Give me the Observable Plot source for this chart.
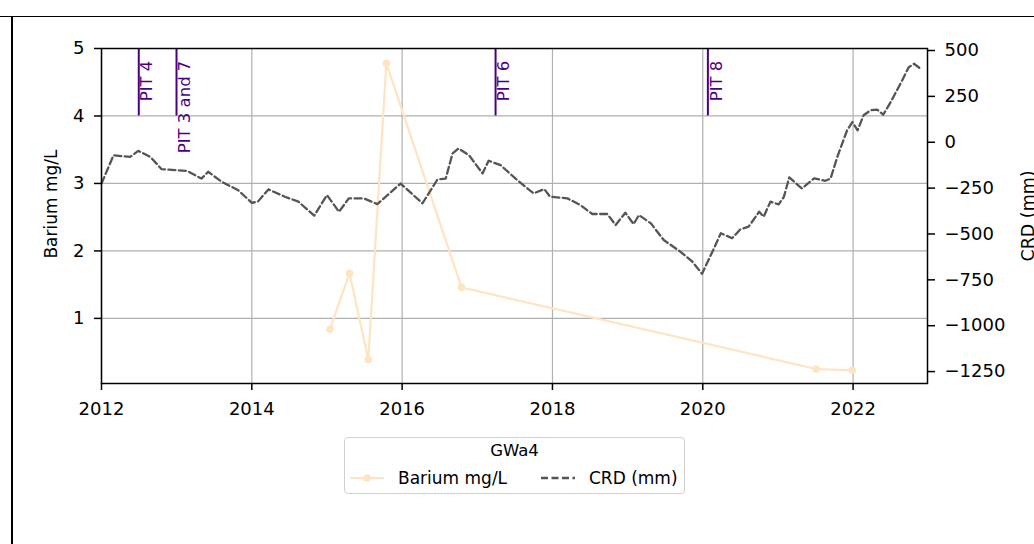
<!DOCTYPE html>
<html>
<head>
<meta charset="utf-8">
<script src="https://cdn.jsdelivr.net/npm/d3@7"></script>
<script src="https://cdn.jsdelivr.net/npm/@observablehq/plot@0.6"></script>
<style>
  html, body { margin: 0; padding: 0; background: #fff; }
  body { width: 1034px; height: 544px; overflow: hidden; font-family: "DejaVu Sans", sans-serif; }
  #wrap { position: relative; width: 1034px; height: 544px; }
  #topline { position: absolute; left: 0; top: 16px; width: 1034px; height: 1px; background: #000; }
  #leftline { position: absolute; left: 11px; top: 16px; width: 2px; height: 528px; background: #000; }
  #chart { position: absolute; left: 0; top: 0; }
  #legend { position: absolute; left: 344px; top: 437px; width: 341px; height: 57px;
    border: 1.5px solid #d0d0d0; border-radius: 4px; box-sizing: border-box; font-size: 17px; color: #000; }
  #legend .title { position: absolute; left: 0; right: 0; top: 3px; text-align: center; font-size: 16.5px; }
  #legend .item { position: absolute; top: 30px; display: flex; align-items: center; white-space: nowrap; }
  #legend svg { display: block; }
</style>
</head>
<body>
<div id="wrap">
  <div id="topline"></div>
  <div id="leftline"></div>
  <div id="chart"></div>
  <div id="legend"></div>
</div>
<script>
// ---- data ----
const xTicks = [2012, 2014, 2016, 2018, 2020, 2022];
const gridXTicks = [2012, 2014, 2016, 2018, 2020, 2022];
const leftTicks = [1, 2, 3, 4, 5];
const rightTicks = [500, 250, 0, -250, -500, -750, -1000, -1250];

const bariumYears  = [2015.04, 2015.30, 2015.55, 2015.79, 2016.79, 2021.51, 2021.99];
const bariumValues = [0.84, 1.67, 0.39, 4.78, 1.46, 0.25, 0.23];

const crdYears = [2012.00, 2012.16, 2012.38, 2012.49, 2012.65, 2012.80, 2013.14, 2013.33, 2013.42, 2013.60,
  2013.73, 2013.82, 2014.00, 2014.08, 2014.22, 2014.44, 2014.62, 2014.83, 2015.00, 2015.16,
  2015.29, 2015.49, 2015.67, 2015.98, 2016.27, 2016.47, 2016.58, 2016.67, 2016.75, 2016.89,
  2017.07, 2017.15, 2017.31, 2017.53, 2017.75, 2017.89, 2017.97, 2018.20, 2018.37, 2018.53,
  2018.73, 2018.84, 2018.97, 2019.08, 2019.15, 2019.31, 2019.48, 2019.70, 2019.86, 2019.99,
  2020.15, 2020.24, 2020.39, 2020.50, 2020.61, 2020.75, 2020.81, 2020.90, 2021.01, 2021.08,
  2021.15, 2021.32, 2021.48, 2021.63, 2021.70, 2021.79, 2021.92, 2021.99, 2022.06, 2022.14,
  2022.23, 2022.32, 2022.40, 2022.50, 2022.63, 2022.74, 2022.81, 2022.90];
const crdValues = [-225, -71, -80, -47, -80, -147, -156, -198, -161, -216,
  -243, -262, -330, -324, -257, -297, -324, -400, -288, -379,
  -306, -306, -337, -225, -333, -203, -198, -62, -34, -71,
  -170, -101, -125, -206, -279, -255, -297, -306, -342, -391,
  -391, -451, -384, -446, -397, -442, -533, -596, -650, -717,
  -578, -496, -523, -475, -460, -379, -406, -324, -339, -297,
  -192, -252, -197, -210, -198, -80, 65, 110, 65, 147,
  174, 178, 150, 219, 319, 409, 428, 400];

const pitYears  = [2012.496, 2012.998, 2017.243, 2020.068];
const pitLabels = ["PIT 4", "PIT 3 and 7", "PIT 6", "PIT 8"];

const seriesNames = ["Barium mg/L", "CRD (mm)"];
const legendTitle = "GWa4";

// ---- scales ----
const xDomain = [2012, 2022.99];
const yDomain = [0.035, 5];        // Barium mg/L (left)
const crdDomain = [-1315, 511];    // CRD mm (right)
const toY = c => yDomain[0] + (c - crdDomain[0]) * (yDomain[1] - yDomain[0]) / (crdDomain[1] - crdDomain[0]);
const fromY = v => crdDomain[0] + (v - yDomain[0]) * (crdDomain[1] - crdDomain[0]) / (yDomain[1] - yDomain[0]);
const fmtNum = n => (n < 0 ? "\u2212" + Math.abs(n) : String(n));

const barium = bariumYears.map((x, i) => ({x, y: bariumValues[i]}));
const crd = crdYears.map((x, i) => ({x, y: toY(crdValues[i])}));
const pits = pitYears.map((x, i) => ({x, label: pitLabels[i]}));

const colBarium = "#FFE4C4";
const colCrd = "#555555";
const colPit = "#4B0082";
const gridCol = "#b0b0b0";
const FS = 18;

const chart = Plot.plot({
  width: 1034,
  height: 430,
  marginLeft: 101,
  marginRight: 107,
  marginTop: 48,
  marginBottom: 47,
  style: {fontFamily: "DejaVu Sans, sans-serif", fontSize: FS + "px", background: "transparent", color: "#000"},
  x: {type: "linear", domain: xDomain},
  y: {type: "linear", domain: yDomain},
  marks: [
    Plot.gridX(gridXTicks, {stroke: gridCol, strokeOpacity: 1, strokeWidth: 1.2}),
    Plot.gridY(leftTicks, {stroke: gridCol, strokeOpacity: 1, strokeWidth: 1.2}),
    Plot.ruleX(pits, {x: "x", y1: 4, y2: 5, stroke: colPit, strokeWidth: 2}),
    Plot.text(pits, {x: "x", y: 4.82, text: "label", rotate: -90, textAnchor: "end", lineAnchor: "top",
      dx: 2, fill: colPit, fontSize: 16.5}),
    Plot.line(barium, {x: "x", y: "y", stroke: colBarium, strokeWidth: 2.2}),
    Plot.dot(barium, {x: "x", y: "y", r: 3.8, fill: colBarium, stroke: "none"}),
    Plot.line(crd, {x: "x", y: "y", stroke: colCrd, strokeWidth: 2.3, strokeDasharray: "7,3.5"}),
    Plot.frame({stroke: "#000", strokeWidth: 1.5}),
    Plot.axisX({ticks: xTicks, tickFormat: d => String(d), tickSize: 7, tickPadding: 12, strokeWidth: 1.5, label: null, fontSize: FS}),
    Plot.axisY({anchor: "left", ticks: leftTicks, tickFormat: d => String(d), tickSize: 7, tickPadding: 10, strokeWidth: 1.5, label: null, fontSize: FS}),
    Plot.axisY({anchor: "right", ticks: rightTicks.map(toY), tickFormat: d => fmtNum(Math.round(fromY(d))),
      tickSize: 7, tickPadding: 10, strokeWidth: 1.5, label: null, fontSize: FS}),
    Plot.text([seriesNames[0]], {frameAnchor: "left", textAnchor: "middle", text: d => d, rotate: -90, dx: -50, dy: -12, fontSize: 17, fill: "#000"}),
    Plot.text([seriesNames[1]], {frameAnchor: "right", textAnchor: "middle", text: d => d, rotate: -90, dx: 101, fontSize: 17.5, fill: "#000"})
  ]
});
document.getElementById("chart").appendChild(chart);

// ---- legend ----
const lg = document.getElementById("legend");
const t = document.createElement("div");
t.className = "title";
t.textContent = legendTitle;
lg.appendChild(t);

function addItem(left, swatch, label) {
  const d = document.createElement("div");
  d.className = "item";
  d.style.left = left + "px";
  d.innerHTML = swatch + `<span style="margin-left:13px">${label}</span>`;
  lg.appendChild(d);
}
addItem(4,
  `<svg width="36" height="16"><line x1="1" y1="8" x2="35" y2="8" stroke="${colBarium}" stroke-width="2.2"/><circle cx="18" cy="8" r="3.8" fill="${colBarium}"/></svg>`,
  seriesNames[0]);
addItem(195,
  `<svg width="36" height="16"><line x1="1" y1="8" x2="35" y2="8" stroke="${colCrd}" stroke-width="2.3" stroke-dasharray="7,3.5"/></svg>`,
  seriesNames[1]);
</script>
</body>
</html>
